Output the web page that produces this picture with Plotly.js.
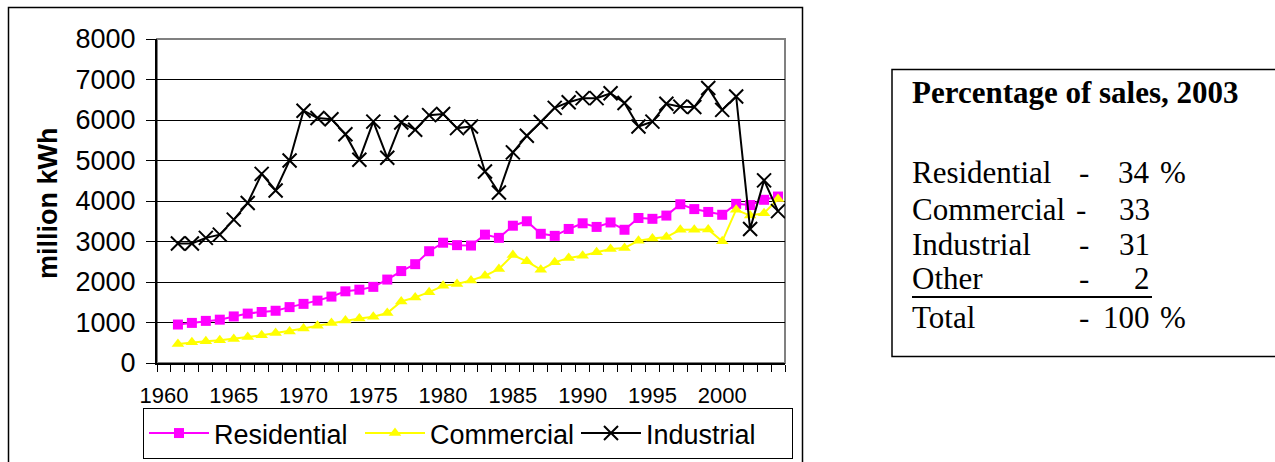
<!DOCTYPE html>
<html>
<head>
<meta charset="utf-8">
<script src="https://cdn.plot.ly/plotly-3.0.1.min.js"></script>
<style>
  html, body { margin: 0; padding: 0; background: #ffffff; }
  #chart { width: 1275px; height: 462px; }
</style>
</head>
<body>
<div id="chart"></div>
<script>
// ---- Data ----
const years = [1961, 1962, 1963, 1964, 1965, 1966, 1967, 1968, 1969, 1970,
               1971, 1972, 1973, 1974, 1975, 1976, 1977, 1978, 1979, 1980,
               1981, 1982, 1983, 1984, 1985, 1986, 1987, 1988, 1989, 1990,
               1991, 1992, 1993, 1994, 1995, 1996, 1997, 1998, 1999, 2000,
               2001, 2002, 2003, 2004];

const residential = [950, 990, 1040, 1070, 1150, 1220, 1260, 1290, 1380, 1460,
                     1540, 1640, 1770, 1810, 1880, 2060, 2270, 2440, 2760, 2970,
                     2910, 2900, 3170, 3090, 3390, 3500, 3190, 3140, 3310, 3450,
                     3360, 3470, 3290, 3580, 3560, 3640, 3920, 3800, 3730, 3660,
                     3930, 3900, 4030, 4110];

const commercial = [470, 510, 535, 560, 595, 640, 685, 740, 780, 850,
                    920, 985, 1050, 1100, 1140, 1235, 1520, 1620, 1750, 1905,
                    1950, 2040, 2155, 2320, 2665, 2510, 2305, 2485, 2595, 2650,
                    2735, 2815, 2840, 3020, 3075, 3110, 3290, 3290, 3295, 3005,
                    3785, 3640, 3700, 4050];

const industrial = [2950, 2950, 3090, 3170, 3540, 3950, 4670, 4260, 5000, 6230,
                    6050, 6020, 5650, 5020, 5960, 5070, 5940, 5760, 6120, 6150,
                    5800, 5840, 4730, 4210, 5200, 5610, 5950, 6300, 6440, 6540,
                    6540, 6660, 6420, 5840, 5960, 6400, 6330, 6320, 6790, 6250,
                    6580, 3310, 4510, 3750];

const seriesNames = ["Residential", "Commercial", "Industrial"];
const xTickYears = [1960, 1965, 1970, 1975, 1980, 1985, 1990, 1995, 2000];

const salesTitle = "Percentage of sales, 2003";
const salesLabels = ["Residential", "Commercial", "Industrial", "Other", "Total"];
const salesPct = ["34", "33", "31", "2", "100"];
const salesUnit = ["%", "", "", "", "%"];

// ---- Geometry helpers (pixel -> paper) ----
const W = 1275, H = 462;
const mL = 157, mR = 490, mT = 39, mB = 99;
const pw = W - mL - mR, ph = H - mT - mB;
const px = x => (x - mL) / pw;
const py = y => (H - mB - y) / ph;

const SANS = "Liberation Sans, Arial, sans-serif";
const SERIF = "Liberation Serif, Times New Roman, serif";
const BOXFONT = 31;

const traces = [
  {
    x: years, y: residential, name: seriesNames[0], type: "scatter", mode: "lines+markers",
    line: { color: "#FF00FF", width: 2 },
    marker: { symbol: "square", size: 10, color: "#FF00FF" }
  },
  {
    x: years, y: commercial, name: seriesNames[1], type: "scatter", mode: "lines+markers",
    line: { color: "#FFFF00", width: 2 },
    marker: { symbol: "triangle-up", size: 11, color: "#FFFF00" }
  },
  {
    x: years, y: industrial, name: seriesNames[2], type: "scatter", mode: "lines+markers",
    line: { color: "#000000", width: 2 },
    marker: { symbol: "x-thin-open", size: 14, color: "#000000", line: { color: "#000000", width: 2 } }
  }
];

// Text box annotations
const annotations = [
  {
    text: "million kWh", textangle: -90, xref: "paper", yref: "paper",
    x: px(48), y: py(203), xanchor: "center", yanchor: "middle", showarrow: false,
    font: { family: SANS, size: 27, color: "#000", weight: "bold" }
  },
  {
    text: "<b>" + salesTitle + "</b>", xref: "paper", yref: "paper",
    x: px(910), y: py(102.5 - 10), xanchor: "left", yanchor: "middle", showarrow: false,
    font: { family: SERIF, size: BOXFONT, color: "#000" }
  }
];
const rowBase = [183, 219, 255, 288, 327];
salesLabels.forEach((lab, i) => {
  const yc = py(rowBase[i] - 10);
  annotations.push({ text: lab, xref: "paper", yref: "paper", x: px(910), y: yc,
    xanchor: "left", yanchor: "middle", showarrow: false,
    font: { family: SERIF, size: BOXFONT, color: "#000" } });
  annotations.push({ text: "-", xref: "paper", yref: "paper", x: px(i === 1 ? 1081 : 1084), y: yc,
    xanchor: "center", yanchor: "middle", showarrow: false,
    font: { family: SERIF, size: BOXFONT, color: "#000" } });
  annotations.push({ text: salesPct[i], xref: "paper", yref: "paper", x: px(1152), y: yc,
    xanchor: "right", yanchor: "middle", showarrow: false,
    font: { family: SERIF, size: BOXFONT, color: "#000" } });
  if (salesUnit[i]) {
    annotations.push({ text: salesUnit[i], xref: "paper", yref: "paper", x: px(1158), y: yc,
      xanchor: "left", yanchor: "middle", showarrow: false,
      font: { family: SERIF, size: BOXFONT, color: "#000" } });
  }
});

const shapes = [
  // outer chart border
  { type: "rect", xref: "paper", yref: "paper", x0: px(8.5), x1: px(802.5), y0: py(7.5), y1: py(475),
    line: { color: "#000", width: 1.5 }, layer: "below" },
  // plot area border (grey)
  { type: "rect", xref: "paper", yref: "paper", x0: 0, x1: 1, y0: 0, y1: 1,
    line: { color: "#808080", width: 2 }, layer: "below" },
  // text box border
  { type: "rect", xref: "paper", yref: "paper", x0: px(892), x1: px(1290), y0: py(69.5), y1: py(356.5),
    line: { color: "#000", width: 1.5 }, layer: "below" },
  // underline below "Other" row
  { type: "line", xref: "paper", yref: "paper", x0: px(912), x1: px(1152), y0: py(297), y1: py(297),
    line: { color: "#000", width: 2 } }
];

const layout = {
  width: W, height: H,
  margin: { l: mL, r: mR, t: mT, b: mB, pad: 0, autoexpand: false },
  paper_bgcolor: "#ffffff", plot_bgcolor: "#ffffff",
  font: { family: SANS, color: "#000" },
  showlegend: true,
  legend: {
    orientation: "h", x: px(143), y: py(408), xanchor: "left", yanchor: "top",
    bordercolor: "#000", borderwidth: 1, bgcolor: "#fff",
    font: { family: SANS, size: 27, color: "#000" },
    itemwidth: 60, entrywidth: 141, entrywidthmode: "pixels",
    tracegroupgap: 0
  },
  xaxis: {
    type: "linear", range: [1959.5, 2004.5], autorange: false,
    tickmode: "array", tickvals: xTickYears, ticktext: xTickYears.map(String),
    ticks: "", showgrid: false, zeroline: false,
    showline: true, linecolor: "#000", linewidth: 1.5,
    tickfont: { family: SANS, size: 22, color: "#000" },
    ticklabelstandoff: 12,
    minor: { ticks: "outside", tick0: 1959.5, dtick: 1, ticklen: 7, tickcolor: "#000", tickwidth: 1, showgrid: false }
  },
  yaxis: {
    range: [0, 8000], autorange: false, dtick: 1000, tick0: 0,
    showgrid: true, gridcolor: "#000", gridwidth: 1, zeroline: false,
    showline: true, linecolor: "#000", linewidth: 2,
    ticks: "outside", ticklen: 9, tickcolor: "#000", tickwidth: 1,
    tickfont: { family: SANS, size: 27, color: "#000" },
    ticklabelstandoff: 5
  },
  annotations: annotations,
  shapes: shapes,
  hovermode: false
};

Plotly.newPlot("chart", traces, layout, { displayModeBar: false, staticPlot: true });
</script>
</body>
</html>
